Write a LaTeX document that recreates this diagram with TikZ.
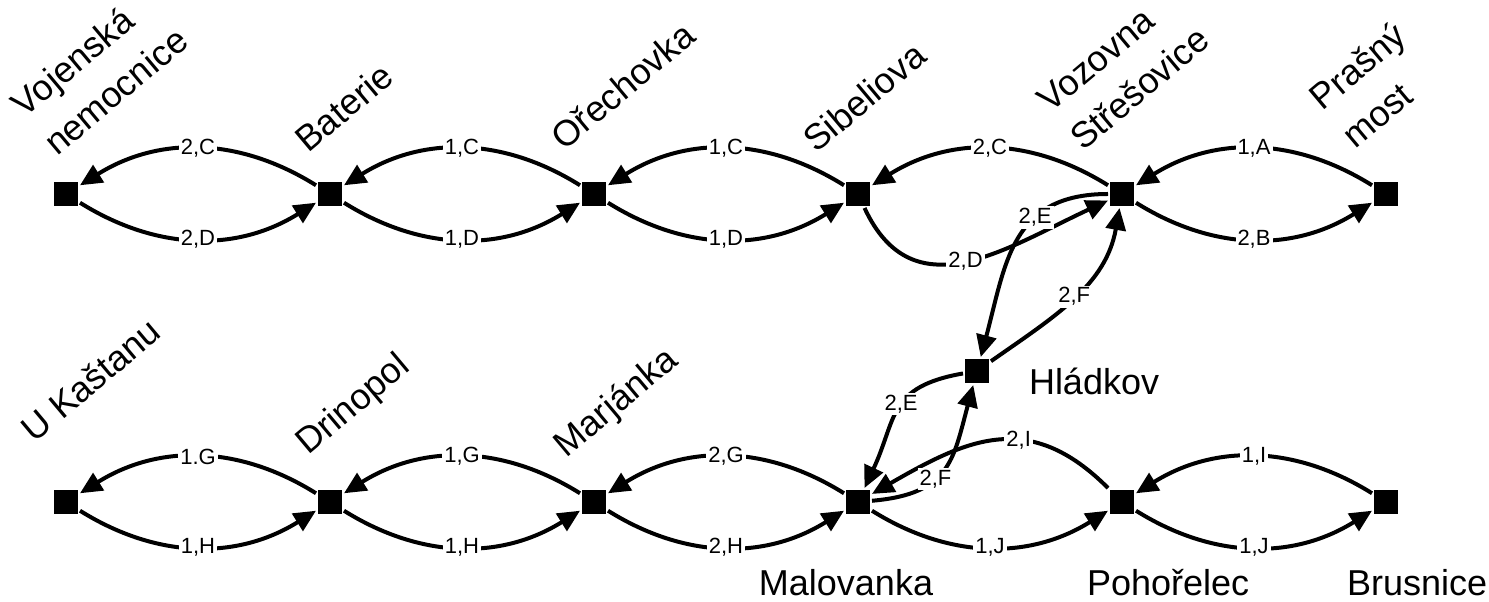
\documentclass[tikz,border=0pt]{standalone}
\usepackage{fontspec}
\setmainfont{Liberation Sans}
\usetikzlibrary{positioning,arrows.meta}

\begin{document}
\begin{tikzpicture}[
  x=1pt, y=1pt, node distance=236pt,
  >={Triangle[length=22pt,width=20pt]}, line width=4pt,
  stop/.style={fill=black,rectangle,minimum size=24pt,inner sep=0pt},
  stn/.style={font=\fontsize{36}{50}\selectfont,inner sep=0pt,align=left},
  tilt/.style={stn,rotate=40},
  lbl/.style={fill=white,inner sep=2pt,font=\fontsize{22}{24}\selectfont},
  arc/.style={bend right=32}
]
\useasboundingbox (0,0) rectangle (1489,602);

% Top row
\node[stop] (vn) at (66,408) {};
\node[stop, right=of vn] (bat) {};
\node[stop, right=of bat] (ore) {};
\node[stop, right=of ore] (sib) {};
\node[stop, right=of sib] (voz) {};
\node[stop, right=of voz] (pra) {};

% Bottom row
\node[stop, below=280pt of vn] (uka) {};
\node[stop, right=of uka] (dri) {};
\node[stop, right=of dri] (mar) {};
\node[stop, right=of mar] (mal) {};
\node[stop, right=of mal] (poh) {};
\node[stop, right=of poh] (bru) {};
\node[stop] (hla) at (977,231) {};

% Station names
\node[tilt, anchor=south west] (vn-name) at (57,442) {Vojenská\\nemocnice};
\node[tilt, anchor=base west] (bat-name) at (307,447) {Baterie};
\node[tilt, anchor=base west] (ore-name) at (563,449) {Ořechovka};
\node[tilt, anchor=base west] (sib-name) at (815,447) {Sibeliova};
\node[tilt, anchor=south west] (voz-name) at (1083,447) {Vozovna\\Střešovice};
\node[tilt, anchor=south west] (pra-name) at (1355,449) {Prašný\\most};
\node[tilt, anchor=base west] (uka-name) at (33,157) {U Kaštanu};
\node[tilt, anchor=base west] (dri-name) at (307,145) {Drinopol};
\node[tilt, anchor=base west] (mar-name) at (565,142) {Marjánka};
\node[stn, anchor=base] (mal-name) at (846,6) {Malovanka};
\node[stn, anchor=base west] (poh-name) at (1085,6) {Pohořelec};
\node[stn, anchor=base west] (bru-name) at (1345,6) {Brusnice};
\node[stn, anchor=base west] (hla-name) at (1027,207) {Hládkov};

% Top connections
\draw[->] (bat) to[arc] node[lbl]{2,C} (vn);
\draw[->] (vn) to[arc] node[lbl]{2,D} (bat);
\draw[->] (ore) to[arc] node[lbl]{1,C} (bat);
\draw[->] (bat) to[arc] node[lbl]{1,D} (ore);
\draw[->] (sib) to[arc] node[lbl]{1,C} (ore);
\draw[->] (ore) to[arc] node[lbl]{1,D} (sib);
\draw[->] (voz) to[arc] node[lbl]{2,C} (sib);
\draw[->] (pra) to[arc] node[lbl]{1,A} (voz);
\draw[->] (voz) to[arc] node[lbl]{2,B} (pra);

% Bottom connections
\draw[->] (dri) to[arc] node[lbl]{1.G} (uka);
\draw[->] (uka) to[arc] node[lbl]{1,H} (dri);
\draw[->] (mar) to[arc] node[lbl]{1,G} (dri);
\draw[->] (dri) to[arc] node[lbl]{1,H} (mar);
\draw[->] (mal) to[arc] node[lbl]{2,G} (mar);
\draw[->] (mar) to[arc] node[lbl]{2,H} (mal);
\draw[->] (mal) to[arc] node[lbl]{1,J} (poh);
\draw[->] (bru) to[arc] node[lbl]{1,I} (poh);
\draw[->] (poh) to[arc] node[lbl]{1,J} (bru);

% Via Hladkov
\draw[->] (sib) to[out=-65,in=-155,looseness=1.2] node[lbl,pos=0.5]{2,D} (voz);
\draw[->] (voz) to[out=180,in=75,looseness=1.2] node[lbl,pos=0.35]{2,E} (hla);
\draw[->] (hla) to[out=35,in=-100] node[lbl,pos=0.5]{2,F} (voz);
\draw[->] (hla) to[out=190,in=65,looseness=1.3] node[lbl,pos=0.45]{2,E} (mal);
\draw[->] (poh) to[out=135,in=30,looseness=1.2] node[lbl,pos=0.4]{2,I} (mal);
\draw[->] (mal) to[out=5,in=-105,looseness=1.3] node[lbl,pos=0.4]{2,F} (hla);
\end{tikzpicture}
\end{document}
